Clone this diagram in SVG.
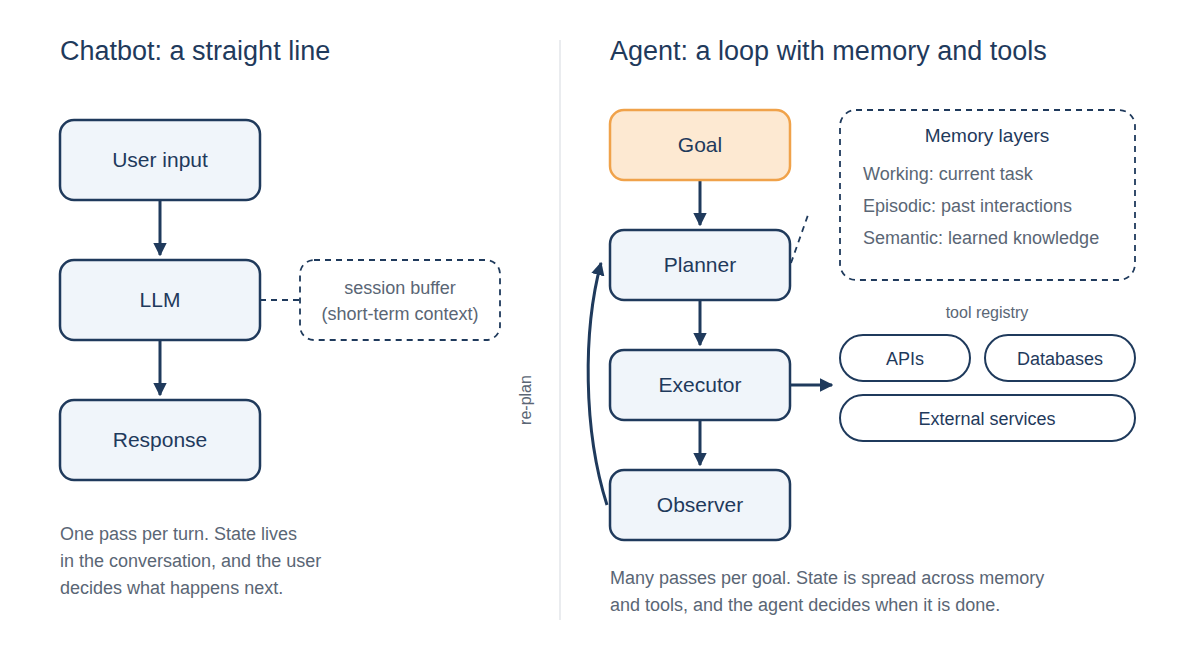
<svg xmlns="http://www.w3.org/2000/svg" width="1200" height="660" viewBox="0 0 1200 660">
<defs>
<marker id="ah" viewBox="0 0 10 10" refX="9" refY="5" markerWidth="4.5" markerHeight="4.5" orient="auto"><path d="M0,0 L10,5 L0,10 z" fill="#1f3a5c"/></marker>
<style>
text{font-family:"Liberation Sans",Arial,sans-serif}
.box{fill:#f0f5fa;stroke:#1f3a5c;stroke-width:2.5}
.goal{fill:#fde9d2;stroke:#f0a24a;stroke-width:2.5}
.pill{fill:#fff;stroke:#1f3a5c;stroke-width:2}
.dash{fill:#fff;stroke:#1f3a5c;stroke-width:1.8;stroke-dasharray:6 5}
.lbl{font-size:21px;fill:#1f3a5c;text-anchor:middle}
.small{font-size:18px;fill:#1f3a5c;text-anchor:middle}
.gray{font-size:18px;fill:#5a6675}
.title{font-size:27px;fill:#1f3a5c}
.cap{font-size:18px;fill:#5a6675}
.arr{stroke:#1f3a5c;stroke-width:3;fill:none;marker-end:url(#ah)}
.dl{stroke:#1f3a5c;stroke-width:1.8;stroke-dasharray:6 5;fill:none}
</style>
</defs>
<rect width="1200" height="660" fill="#fff"/>
<text class="title" x="60" y="60">Chatbot: a straight line</text>
<text class="title" x="610" y="60">Agent: a loop with memory and tools</text>
<line x1="560" y1="40" x2="560" y2="620" stroke="#e3e6ea" stroke-width="1.5"/>
<g id="connectors">
<line class="arr" x1="160" y1="201" x2="160" y2="255"/>
<line class="arr" x1="160" y1="341" x2="160" y2="395"/>
<line class="dl" x1="260" y1="300" x2="300" y2="300"/>
<line class="arr" x1="700" y1="181" x2="700" y2="225"/>
<line class="arr" x1="700" y1="301" x2="700" y2="345"/>
<line class="arr" x1="700" y1="421" x2="700" y2="465"/>
<line class="arr" x1="791" y1="385" x2="832" y2="385"/>
<line class="dl" x1="791" y1="263" x2="808" y2="215"/>
<path class="arr" d="M607,505 C583,430 583,330 601,263"/>
<text class="cap" font-size="16" transform="translate(531,400) rotate(-90)" text-anchor="middle" style="font-size:16px">re-plan</text>
</g>
<g id="user-input"><rect class="box" x="60" y="120" width="200" height="80" rx="14"/><text class="lbl" x="160" y="167">User input</text></g>
<g id="llm"><rect class="box" x="60" y="260" width="200" height="80" rx="14"/><text class="lbl" x="160" y="307">LLM</text></g>
<g id="response"><rect class="box" x="60" y="400" width="200" height="80" rx="14"/><text class="lbl" x="160" y="447">Response</text></g>
<g id="session-buffer"><rect class="dash" x="300" y="260" width="200" height="80" rx="14"/>
<text class="gray" x="400" y="294" text-anchor="middle">session buffer</text><text class="gray" x="400" y="320" text-anchor="middle">(short-term context)</text></g>
<g id="goal"><rect class="goal" x="610" y="110" width="180" height="70" rx="14"/><text class="lbl" x="700" y="152">Goal</text></g>
<g id="planner"><rect class="box" x="610" y="230" width="180" height="70" rx="14"/><text class="lbl" x="700" y="272">Planner</text></g>
<g id="executor"><rect class="box" x="610" y="350" width="180" height="70" rx="14"/><text class="lbl" x="700" y="392">Executor</text></g>
<g id="observer"><rect class="box" x="610" y="470" width="180" height="70" rx="14"/><text class="lbl" x="700" y="512">Observer</text></g>
<g id="memory"><rect class="dash" x="840" y="110" width="295" height="170" rx="16"/>
<text class="small" x="987" y="142" style="font-size:19px">Memory layers</text>
<text class="gray" x="863" y="180">Working: current task</text>
<text class="gray" x="863" y="212">Episodic: past interactions</text>
<text class="gray" x="863" y="244">Semantic: learned knowledge</text></g>
<text class="gray" x="987" y="318" text-anchor="middle" style="font-size:16px">tool registry</text>
<g id="apis"><rect class="pill" x="840" y="335" width="130" height="46" rx="23"/><text class="small" x="905" y="365">APIs</text></g>
<g id="databases"><rect class="pill" x="985" y="335" width="150" height="46" rx="23"/><text class="small" x="1060" y="365">Databases</text></g>
<g id="external"><rect class="pill" x="840" y="395" width="295" height="46" rx="23"/><text class="small" x="987" y="425">External services</text></g>
<text class="cap" x="60" y="540">One pass per turn. State lives</text>
<text class="cap" x="60" y="567">in the conversation, and the user</text>
<text class="cap" x="60" y="594">decides what happens next.</text>
<text class="cap" x="610" y="584">Many passes per goal. State is spread across memory</text>
<text class="cap" x="610" y="611">and tools, and the agent decides when it is done.</text>
</svg>
